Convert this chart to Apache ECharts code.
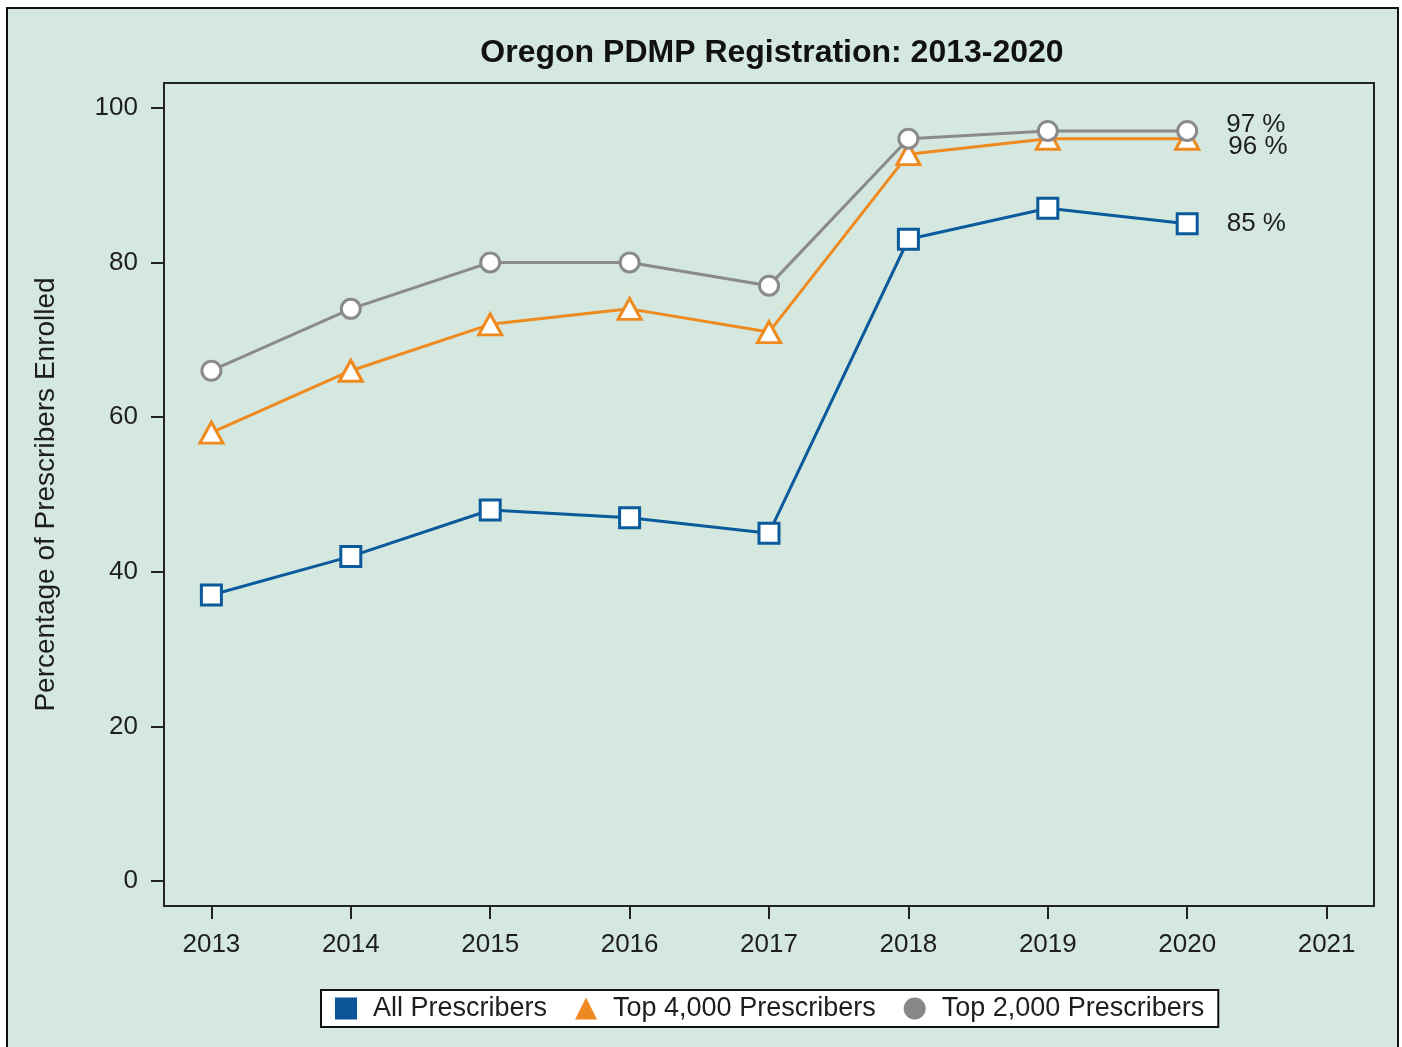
<!DOCTYPE html>
<html>
<head>
<meta charset="utf-8">
<style>
  html, body { margin: 0; padding: 0; background: #fff; }
  #chart { width: 1402px; height: 1047px; }
</style>
<script src="https://cdn.jsdelivr.net/npm/echarts@6/dist/echarts.min.js"></script>
</head>
<body>
<div id="chart"></div>
<script>
// data
const years = [2013, 2014, 2015, 2016, 2017, 2018, 2019, 2020];
const xTicks = [2013, 2014, 2015, 2016, 2017, 2018, 2019, 2020, 2021];
const yTicks = [0, 20, 40, 60, 80, 100];
const allPrescribers = [37, 42, 48, 47, 45, 83, 87, 85];
const top4000 = [58, 66, 72, 74, 71, 94, 96, 96];
const top2000 = [66, 74, 80, 80, 77, 96, 97, 97];

const FONT = "'Liberation Sans', Arial, sans-serif";
const TEXT = "#1e1e1e";
const BG = "#d5e8df";

function pairs(vals) {
  return vals.map((v, i) => [years[i], v]);
}

function makeSeries(name, vals, color, symbol, size, labelOffset) {
  const data = pairs(vals);
  const last = data.length - 1;
  // end-of-line value label
  data[last] = {
    value: data[last],
    label: {
      show: true,
      position: "right",
      distance: 28,
      offset: labelOffset,
      formatter: (p) => p.value[1] + " %",
      color: TEXT,
      fontFamily: FONT,
      fontSize: 26,
    },
  };
  return {
    name: name,
    type: "line",
    data: data,
    symbol: symbol,
    symbolSize: size,
    showAllSymbol: true,
    lineStyle: { color: color, width: 3 },
    itemStyle: { color: "#fff", borderColor: color, borderWidth: 3 },
    emphasis: { disabled: true },
  };
}

const chart = echarts.init(document.getElementById("chart"));
chart.setOption({
  animation: false,
  textStyle: { fontFamily: FONT },
  graphic: [
    {
      type: "rect",
      z: -10,
      silent: true,
      shape: { x: 7, y: 8, width: 1391, height: 1050 },
      style: { fill: BG, stroke: "#111", lineWidth: 2 },
    },
  ],
  title: {
    text: "Oregon PDMP Registration: 2013-2020",
    left: 767,
    textAlign: "center",
    top: 32,
    textStyle: { fontFamily: FONT, fontSize: 32, fontWeight: "bold", color: "#111" },
  },
  grid: {
    left: 164,
    right: 28,
    top: 83,
    bottom: 141,
    show: true,
    backgroundColor: BG,
    borderColor: "#222",
    borderWidth: 2,
  },
  legend: {
    bottom: 20,
    left: 321,
    backgroundColor: "#fff",
    borderColor: "#111",
    borderWidth: 2,
    borderRadius: 0,
    padding: [5, 14, 5, 14],
    itemWidth: 22,
    itemHeight: 22,
    itemGap: 28,
    textStyle: { fontFamily: FONT, fontSize: 27, color: TEXT, padding: [0, 0, 0, 11] },
    data: [
      { name: "All Prescribers", icon: "rect", itemStyle: { color: "#0b5596", borderWidth: 0 } },
      { name: "Top 4,000 Prescribers", icon: "triangle", itemStyle: { color: "#ee8a1f", borderWidth: 0 } },
      { name: "Top 2,000 Prescribers", icon: "circle", itemStyle: { color: "#888", borderWidth: 0 } },
    ],
  },
  xAxis: {
    type: "value",
    min: 2012.66,
    max: 2021.34,
    splitLine: { show: false },
    axisLine: { show: true, onZero: false, lineStyle: { color: "#222", width: 2 } },
    axisTick: { show: true, length: 13, customValues: xTicks, lineStyle: { color: "#222", width: 2 } },
    axisLabel: {
      customValues: xTicks,
      formatter: (v) => String(v),
      fontSize: 26,
      color: TEXT,
      margin: 26,
    },
  },
  yAxis: {
    type: "value",
    min: -3.2,
    max: 103.2,
    name: "Percentage of Prescribers Enrolled",
    nameLocation: "middle",
    nameGap: 104,
    nameTextStyle: { fontFamily: FONT, fontSize: 28, color: TEXT },
    splitLine: { show: false },
    axisLine: { show: true, onZero: false, lineStyle: { color: "#222", width: 2 } },
    axisTick: { show: true, length: 13, customValues: yTicks, lineStyle: { color: "#222", width: 2 } },
    axisLabel: {
      customValues: yTicks,
      fontSize: 26,
      color: TEXT,
      margin: 26,
    },
  },
  series: [
    makeSeries("All Prescribers", allPrescribers, "#0b5a9c", "rect", 20, [0, 0]),
    makeSeries("Top 4,000 Prescribers", top4000, "#ee8a1f", "triangle", [23, 21], [0, 8]),
    makeSeries("Top 2,000 Prescribers", top2000, "#8a8a8a", "circle", 19, [0, -6]),
  ],
});
</script>
</body>
</html>
